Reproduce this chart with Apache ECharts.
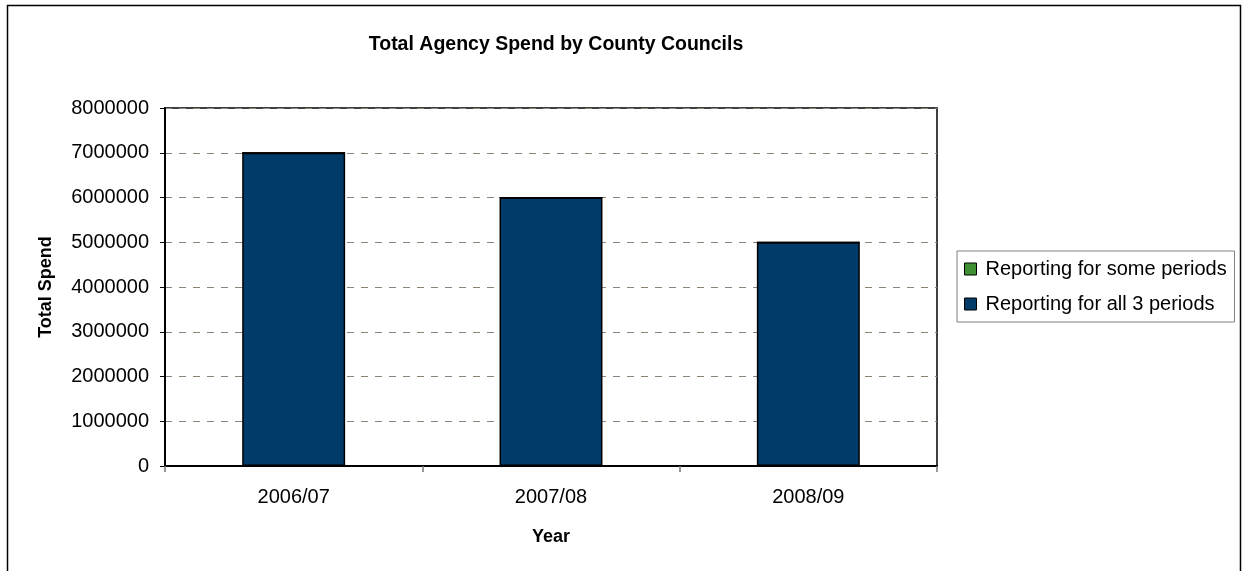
<!DOCTYPE html>
<html>
<head>
<meta charset="utf-8">
<title>Total Agency Spend by County Councils</title>
<script src="https://cdn.jsdelivr.net/npm/echarts@6/dist/echarts.min.js"></script>
<style>
  html, body { margin: 0; padding: 0; background: #fff; }
  #chart { width: 1246px; height: 571px; }
</style>
</head>
<body>
<div id="chart"></div>
<script>
// Financial years on the category axis
const years = ['2006/07', '2007/08', '2008/09'];
// Spend from councils reporting in every period
const allPeriods = [7000000, 6000000, 5000000];
// Spend from councils reporting in only some periods
const somePeriods = [0, 0, 0];
// Value axis range
const yMin = 0;
const yMax = 8000000;
const yStep = 1000000;

const FONT = '"Liberation Sans", Arial, sans-serif';
const chart = echarts.init(document.getElementById('chart'), null, { renderer: 'canvas' });

chart.setOption({
  backgroundColor: '#ffffff',
  animation: false,
  textStyle: { fontFamily: FONT, color: '#000' },
  title: {
    text: 'Total Agency Spend by County Councils',
    left: 551,
    textAlign: 'center',
    top: 30,
    textStyle: { fontFamily: FONT, fontSize: 19.5, fontWeight: 'bold', color: '#000' }
  },
  graphic: [{
    type: 'rect',
    shape: { x: 7.5, y: 5.5, width: 1233, height: 600 },
    style: { fill: 'none', stroke: '#000', lineWidth: 1.5 },
    silent: true
  }],
  grid: {
    left: 165, top: 108, width: 772, height: 358,
    show: true, borderColor: '#000', borderWidth: 1.5, backgroundColor: '#fff'
  },
  legend: {
    orient: 'vertical',
    left: 957, top: 251,
    padding: [7, 4, 7, 7],
    itemGap: 13,
    itemWidth: 12, itemHeight: 12,
    itemStyle: { borderColor: '#000', borderWidth: 1 },
    borderColor: '#808080', borderWidth: 1,
    backgroundColor: '#fff',
    textStyle: { fontFamily: FONT, fontSize: 20, color: '#000', width: 245, overflow: 'none', padding: [0, 0, 0, 4], lineHeight: 22 },
    data: [
      { name: 'Reporting for some periods', icon: 'rect' },
      { name: 'Reporting for all 3 periods', icon: 'rect' }
    ]
  },
  xAxis: {
    type: 'category',
    data: years,
    boundaryGap: true,
    name: 'Year',
    nameLocation: 'middle',
    nameGap: 62,
    nameTextStyle: { fontFamily: FONT, fontSize: 18, fontWeight: 'bold', color: '#000' },
    axisLine: { lineStyle: { color: '#000', width: 2 } },
    axisTick: { show: true, length: 6, alignWithLabel: false, lineStyle: { color: '#777', width: 1.5 } },
    axisLabel: { fontFamily: FONT, fontSize: 20, color: '#000', margin: 21 },
    splitLine: { show: false }
  },
  yAxis: {
    type: 'value',
    min: yMin, max: yMax, interval: yStep,
    name: 'Total Spend',
    nameLocation: 'middle',
    nameGap: 110,
    nameRotate: 90,
    nameTextStyle: { fontFamily: FONT, fontSize: 18, fontWeight: 'bold', color: '#000' },
    axisLine: { show: true, lineStyle: { color: '#000', width: 2 } },
    axisTick: { show: true, length: 5, lineStyle: { color: '#000', width: 1 } },
    axisLabel: { fontFamily: FONT, fontSize: 20, color: '#000', margin: 16, formatter: v => String(v) },
    splitLine: { show: true, lineStyle: { color: '#8c8478', width: 1, type: [7, 7] } }
  },
  series: [
    {
      name: 'Reporting for all 3 periods',
      type: 'bar',
      stack: 'spend',
      data: allPeriods,
      barWidth: '40%',
      itemStyle: { color: '#013b69', borderColor: '#000', borderWidth: 1.5 }
    },
    {
      name: 'Reporting for some periods',
      type: 'bar',
      stack: 'spend',
      data: somePeriods,
      barWidth: '40%',
      itemStyle: { color: '#3f8f33', borderColor: '#000', borderWidth: 1 }
    }
  ]
});
</script>
</body>
</html>
